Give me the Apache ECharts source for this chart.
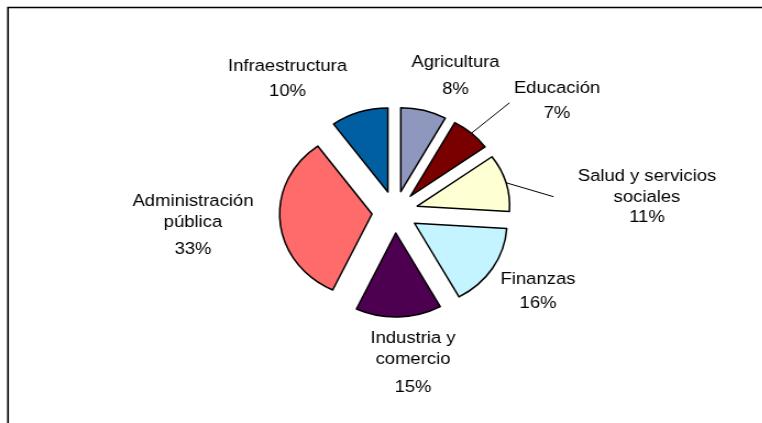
<!DOCTYPE html>
<html><head><meta charset="utf-8">
<script src="https://cdn.jsdelivr.net/npm/echarts@6/dist/echarts.min.js"></script>
<style>
html,body{margin:0;padding:0;background:#fff;overflow:hidden;}
#wrap{width:762px;height:423px;overflow:hidden;position:relative;background:#fff;}
#chart{width:693px;height:423px;transform:scaleX(1.1);transform-origin:0 0;}
</style></head><body><div id="wrap"><div id="chart"></div></div>
<script>
// ---- data ----
const categories = ['Agricultura', 'Educación', 'Salud y servicios sociales', 'Finanzas', 'Industria y comercio', 'Administración pública', 'Infraestructura'];
const shares = [8, 7, 11, 16, 15, 33, 10];
const labelNames = ['Agricultura', 'Educación', 'Salud y servicios\nsociales', 'Finanzas', 'Industria y\ncomercio', 'Administración\npública', 'Infraestructura'];

// ---- styles / layout ----
const S = 1.1; // horizontal stretch of the original picture
const colors = ['#8E97BD', '#7A0000', '#FFFFD4', '#C4F4FF', '#4E0050', '#FF6B6B', '#005FA0'];
// label placement in page pixels: [centre x, first line centre y, gap before percent line]
const labelPlace = [[455.5, 62.7, 26.8], [557, 88.3, 25], [647, 176.7, 20], [538, 279.3, 24], [413, 338.3, 28.5], [193, 201.7, 26.7], [287.5, 66.7, 24.5]];
const showLeader = [false, true, true, false, false, false, false];
const leaderPad = [0, 4, 22, 0, 0, 0, 0];
const FONT = 'Arial, "Liberation Sans", sans-serif';
const NAME_LH = 21;
const CENTER = [395 / S, 212];
const R = 84, EXPLODE = 21;

const sliceData = categories.map((c, i) => ({
  name: c, value: shares[i], selected: true,
  itemStyle: { color: colors[i] }
}));

const labelData = categories.map((c, i) => ({
  name: c, value: shares[i],
  label: {
    padding: [0, 0, 0, leaderPad[i]],
    backgroundColor: 'rgba(255,255,255,0)',
    rich: {
      n: { fontSize: 16.8, fontFamily: FONT, color: '#000', lineHeight: NAME_LH, align: 'center' },
      p: { fontSize: 16.8, fontFamily: FONT, color: '#000', lineHeight: 2 * labelPlace[i][2] - NAME_LH, align: 'center' }
    }
  },
  labelLine: { show: showLeader[i] }
}));

const chart = echarts.init(document.getElementById('chart'), null, { renderer: 'canvas' });
chart.setOption({
  animation: false,
  backgroundColor: '#fff',
  graphic: [{
    type: 'rect', silent: true, z: 10,
    shape: { x: 8 / S, y: 7.5, width: 2000, height: 2000 },
    style: { fill: 'none', stroke: '#000', lineWidth: 1.6 }
  }],
  series: [{
    // labels and leader lines (no visible slices), drawn beneath the exploded slices
    type: 'pie', z: 1,
    center: CENTER, radius: R + EXPLODE,
    startAngle: 90, clockwise: true,
    avoidLabelOverlap: false, silent: true,
    itemStyle: { color: 'rgba(0,0,0,0)', borderWidth: 0 },
    emphasis: { disabled: true },
    label: {
      show: true, position: 'outside', color: '#000', fontFamily: FONT, fontSize: 16.8,
      formatter: p => '{n|' + labelNames[p.dataIndex] + '}\n{p|' + p.percent + '%}'
    },
    labelLine: { show: false, length: 10, length2: 0, smooth: false, lineStyle: { color: '#000', width: 1 } },
    labelLayout: function (params) {
      const i = params.dataIndex;
      const pl = labelPlace[i];
      return { x: pl[0] / S - leaderPad[i] / 2, y: pl[1] - NAME_LH / 2, align: 'center', verticalAlign: 'top' };
    },
    data: labelData
  }, {
    // exploded slices
    type: 'pie', z: 2,
    center: CENTER, radius: R,
    startAngle: 90, clockwise: true,
    selectedMode: 'multiple', selectedOffset: EXPLODE,
    itemStyle: { borderColor: '#000', borderWidth: 1.5 },
    select: { itemStyle: { borderColor: '#000', borderWidth: 1.5 } },
    emphasis: { disabled: true },
    label: { show: false },
    labelLine: { show: false },
    data: sliceData
  }]
});
</script></body></html>
